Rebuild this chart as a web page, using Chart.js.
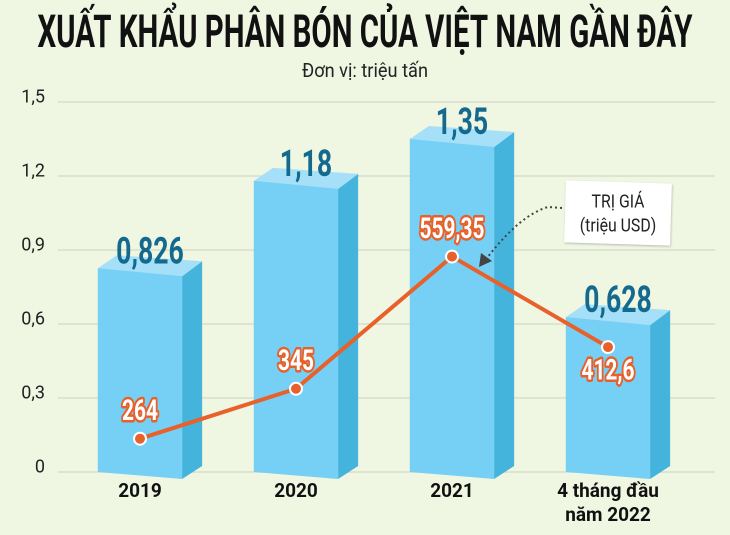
<!DOCTYPE html>
<html>
<head>
<meta charset="utf-8">
<script src="https://cdn.jsdelivr.net/npm/chart.js@4.4.1/dist/chart.umd.min.js"></script>
<style>
  html, body { margin: 0; padding: 0; background: #eff6e1; }
  #wrap { width: 730px; height: 535px; position: relative; }
</style>
</head>
<body>
<div id="wrap"><canvas id="chart" width="730" height="535"></canvas></div>
<script>
// data
var categories = ['2019', '2020', '2021', ['4 tháng đầu', 'năm 2022']];
var volumes = [0.826, 1.18, 1.35, 0.628];          // triệu tấn
var values = [264, 345, 559.35, 412.6];             // triệu USD
var yTicks = [0, 0.3, 0.6, 0.9, 1.2, 1.5];

var title = 'XUẤT KHẨU PHÂN BÓN CỦA VIỆT NAM GẦN ĐÂY';
var subtitle = 'Đơn vị: triệu tấn';

var orange = '#e8602a';
var blueFront = '#76cff5', blueSide = '#45b4dc', blueTop = '#a5e0f8';

const fmt = v => String(v).replace('.', ',');

// draw text squeezed horizontally (condensed look)
const squeeze = (ctx, text, x, y, font, sx, fill, stroke, lw) => {
    ctx.save();
    ctx.font = font;
    ctx.translate(x, y);
    ctx.scale(sx, 1);
    if (stroke) {
        ctx.lineJoin = 'round';
        ctx.lineWidth = lw;
        ctx.strokeStyle = stroke;
        ctx.strokeText(text, 0, 0);
    }
    ctx.fillStyle = fill;
    ctx.fillText(text, 0, 0);
    ctx.restore();
}

const fitText = (ctx, text, x, y, font, width, fill) => {
    ctx.save();
    ctx.font = font;
    var w = ctx.measureText(text).width;
    ctx.restore();
    squeeze(ctx, text, x, y, font, width / w, fill);
}

/*
 * background, titles, grid and y labels
 */
const backdrop = {
    id: 'backdrop',
    beforeDatasetsDraw(chart) {
        const ctx = chart.ctx, y = chart.scales.y, area = chart.chartArea;
        ctx.save();
        ctx.textAlign = 'center';
        ctx.textBaseline = 'alphabetic';
        fitText(ctx, title, 365, 47, 'bold 45px Roboto', 655, '#111');
        fitText(ctx, subtitle, 365, 77, '19px Roboto', 126, '#222');

        y.ticks.forEach(t => {
            const py = y.getPixelForValue(t.value);
            ctx.strokeStyle = '#d9ddcc';
            ctx.lineWidth = 1.5;
            ctx.beginPath();
            ctx.moveTo(area.left - 4, py);
            ctx.lineTo(715, py);
            ctx.stroke();
            ctx.textAlign = 'right';
            ctx.textBaseline = 'middle';
            ctx.font = '18px Roboto';
            ctx.fillStyle = '#222';
            ctx.fillText(t.value === 0 ? '0' : fmt(t.value.toFixed(1)), 45, py - 4);
        });

        // x labels
        const x = chart.scales.x;
        ctx.textAlign = 'center';
        ctx.textBaseline = 'middle';
        ctx.font = 'bold 19px Roboto';
        ctx.fillStyle = '#111';
        categories.forEach((c, i) => {
            const px = x.getPixelForValue(i);
            const lines = Array.isArray(c) ? c : [c];
            lines.forEach((l, j) => ctx.fillText(l, px, 492 + j * 24));
        });
        ctx.restore();
    }
};

/*
 * 3D bars: front, top and side faces from each bar element
 */
const bars3d = {
    id: 'bars3d',
    afterDatasetDraw(chart, args) {
        if (args.index !== 0) return;
        const ctx = chart.ctx;
        args.meta.data.forEach(bar => {
            const L = bar.x - bar.width / 2, R = bar.x + bar.width / 2;
            const yT = bar.y, yB = bar.base;
            const dx = 20, dy = 15, sk = 8;
            ctx.save();
            // front
            ctx.fillStyle = blueFront;
            ctx.beginPath();
            ctx.moveTo(L, yT); ctx.lineTo(R, yT + sk); ctx.lineTo(R, yB + sk - 1); ctx.lineTo(L, yB);
            ctx.closePath(); ctx.fill();
            // side
            ctx.fillStyle = blueSide;
            ctx.beginPath();
            ctx.moveTo(R, yT + sk); ctx.lineTo(R + dx, yT + sk - dy); ctx.lineTo(R + dx, yB - 6); ctx.lineTo(R, yB + sk - 1);
            ctx.closePath(); ctx.fill();
            // top
            ctx.fillStyle = blueTop;
            ctx.beginPath();
            ctx.moveTo(L, yT); ctx.lineTo(L + dx - 1, yT - 13); ctx.lineTo(R + dx, yT + sk - dy); ctx.lineTo(R, yT + sk);
            ctx.closePath(); ctx.fill();
            ctx.restore();
        });
    }
};

/*
 * value labels + the "TRỊ GIÁ" note
 */
const labels = {
    id: 'labels',
    afterDatasetsDraw(chart) {
        const ctx = chart.ctx;
        ctx.save();
        ctx.textAlign = 'center';
        ctx.textBaseline = 'alphabetic';
        chart.getDatasetMeta(0).data.forEach((bar, i) => {
            squeeze(ctx, fmt(volumes[i]), bar.x + 10, bar.y - 5, 'bold 37px Roboto', 0.72, '#14698f');
        });
        ctx.textBaseline = 'middle';
        chart.getDatasetMeta(1).data.forEach((pt, i) => {
            const off = i === 3 ? 25 : -26;
            squeeze(ctx, fmt(values[i]), pt.x, pt.y + off, 'bold 29px Roboto', 0.72, '#fff', orange, 5);
        });

        // note box
        ctx.save();
        ctx.translate(618, 213);
        ctx.rotate(0.03);
        ctx.shadowColor = 'rgba(0,0,0,0.25)';
        ctx.shadowBlur = 4;
        ctx.shadowOffsetX = 1;
        ctx.shadowOffsetY = 2;
        ctx.fillStyle = '#fff';
        ctx.fillRect(-53, -31, 106, 62);
        ctx.restore();
        squeeze(ctx, 'TRỊ GIÁ', 618, 203, '18px Roboto', 0.88, '#222');
        squeeze(ctx, '(triệu USD)', 618, 227, '18px Roboto', 0.88, '#222');

        // dotted arrow
        ctx.strokeStyle = '#444';
        ctx.lineWidth = 2;
        ctx.setLineDash([2, 3]);
        ctx.beginPath();
        ctx.moveTo(562, 208);
        ctx.lineTo(548, 207);
        ctx.quadraticCurveTo(520, 215, 487, 258);
        ctx.stroke();
        ctx.setLineDash([]);
        ctx.fillStyle = '#444';
        ctx.beginPath();
        ctx.moveTo(479, 267);
        ctx.lineTo(481, 253);
        ctx.lineTo(492, 261);
        ctx.closePath();
        ctx.fill();
        ctx.restore();
    }
};

new Chart('chart', {
    data: {
        labels: categories,
        datasets: [{
            type: 'bar',
            data: volumes,
            backgroundColor: blueFront,
            yAxisID: 'y',
            order: 1,
            categoryPercentage: 0.54,
            barPercentage: 1
        }, {
            type: 'line',
            data: values,
            yAxisID: 'y2',
            order: 0,
            borderColor: orange,
            borderWidth: 4,
            pointRadius: 6,
            pointBorderWidth: 2,
            pointBackgroundColor: orange,
            pointBorderColor: '#fff',
            tension: 0
        }]
    },
    options: {
        responsive: false,
        animation: false,
        devicePixelRatio: 2,
        layout: { padding: { left: 62, right: 44, top: 102, bottom: 63 } },
        plugins: { legend: { display: false }, tooltip: { enabled: false } },
        scales: {
            x: { display: false },
            y: {
                display: false, min: 0, max: 1.5,
                afterBuildTicks: s => { s.ticks = yTicks.map(v => ({ value: v })); }
            },
            y2: { display: false, min: 210, max: 810 }
        }
    },
    plugins: [backdrop, bars3d, labels]
});
</script>
</body>
</html>
